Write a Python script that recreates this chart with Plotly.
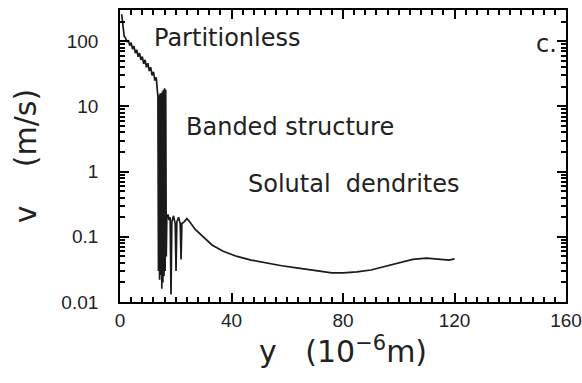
import plotly.graph_objects as go

# Distance y (10^-6 m) and velocity v (m/s)
y_um = [0.6, 1.0, 1.5, 2.0, 2.5, 3.0, 3.5, 4.0, 4.5, 5.0, 5.5, 6.0, 6.5, 7.0, 7.5, 8.0,
        8.5, 9.0, 9.5, 10.0, 10.5, 11.0, 11.5, 12.0, 12.5, 13.0, 13.3,
        13.6, 13.8, 14.0, 14.2, 14.4, 14.6, 14.8, 15.0, 15.2, 15.4, 15.6, 15.8,
        16.0, 16.2, 16.4, 16.6, 16.8,
        17.2, 17.6, 18.0, 18.3, 18.6, 19.2, 19.8, 20.1, 20.4, 21.0, 21.6, 21.9, 22.2,
        23.0, 24.0, 25.0, 27.0, 29.7, 33.0, 37.0, 42.0, 47.0, 52.0, 58.0, 64.0, 70.0,
        76.0, 80.0, 85.0, 90.0, 95.0, 100.0, 105.0, 110.0, 115.0, 118.0, 120.0]
v_ms = [260, 180, 120, 112, 98, 104, 86, 95, 76, 84, 66, 74, 58, 66, 52, 58,
        45, 52, 40, 46, 35, 40, 30, 34, 25, 28, 17,
        14, 0.03, 15, 0.022, 16, 0.026, 16, 0.016, 17, 0.02, 18, 0.025,
        19, 0.03, 18, 0.05, 0.2,
        0.22, 0.18, 0.2, 0.013, 0.17, 0.21, 0.16, 0.03, 0.17, 0.2, 0.16, 0.045, 0.16,
        0.17, 0.19, 0.17, 0.13, 0.1, 0.075, 0.06, 0.05, 0.044, 0.04, 0.036, 0.033, 0.03,
        0.028, 0.028, 0.029, 0.031, 0.035, 0.04, 0.045, 0.047, 0.045, 0.044, 0.046]

FONT = "Liberation Sans"
TFONT = "DejaVu Sans"
INK = "black"
TXT = "#222222"

fig = go.Figure()
fig.add_trace(go.Scatter(x=y_um, y=v_ms, mode="lines",
                         line=dict(color="#1a1a1a", width=1.7), showlegend=False))

fig.update_layout(
    width=582, height=383,
    margin=dict(l=120, r=16, t=10, b=81, autoexpand=False),
    paper_bgcolor="white", plot_bgcolor="white",
    font=dict(family=FONT, color=TXT),
    xaxis=dict(range=[0, 160], tick0=0, dtick=40,
               ticks="inside", ticklen=9, tickwidth=2, tickcolor=INK,
               minor=dict(tick0=0, dtick=4, ticks="inside", ticklen=5, tickwidth=2, tickcolor=INK),
               showline=True, linecolor=INK, linewidth=2, mirror="ticks",
               layer="above traces",
               showgrid=False, zeroline=False, automargin=False,
               tickfont=dict(size=19, family=FONT, color=TXT),
               title=dict(text="y   (10<sup>−6</sup>m)", font=dict(size=30, family=TFONT, color=TXT),
                          standoff=8)),
    yaxis=dict(type="log", range=[-2, 2.48], dtick=1, ticksuffix="   ",
               ticks="inside", ticklen=9, tickwidth=2, tickcolor=INK,
               minor=dict(dtick="D1", ticks="inside", ticklen=5, tickwidth=2, tickcolor=INK),
               showline=True, linecolor=INK, linewidth=2, mirror="ticks",
               layer="above traces",
               showgrid=False, zeroline=False, automargin=False,
               tickfont=dict(size=19, family=FONT, color=TXT),
               title=dict(text="v    (m/s)", font=dict(size=30, family=TFONT, color=TXT),
                          standoff=16)),
)

ann_font = dict(size=24, family=TFONT, color=TXT)
for txt, ax_, ay_ in [("Partitionless", 227, 38), ("Banded structure", 290, 127),
                      ("Solutal  dendrites", 354, 184), ("c.", 546, 44)]:
    fig.add_annotation(x=(ax_ - 120) / 446, y=(302 - ay_) / 292, xref="paper", yref="paper",
                       xanchor="center", yanchor="middle", text=txt,
                       showarrow=False, font=ann_font)

fig.write_html("out.html")
